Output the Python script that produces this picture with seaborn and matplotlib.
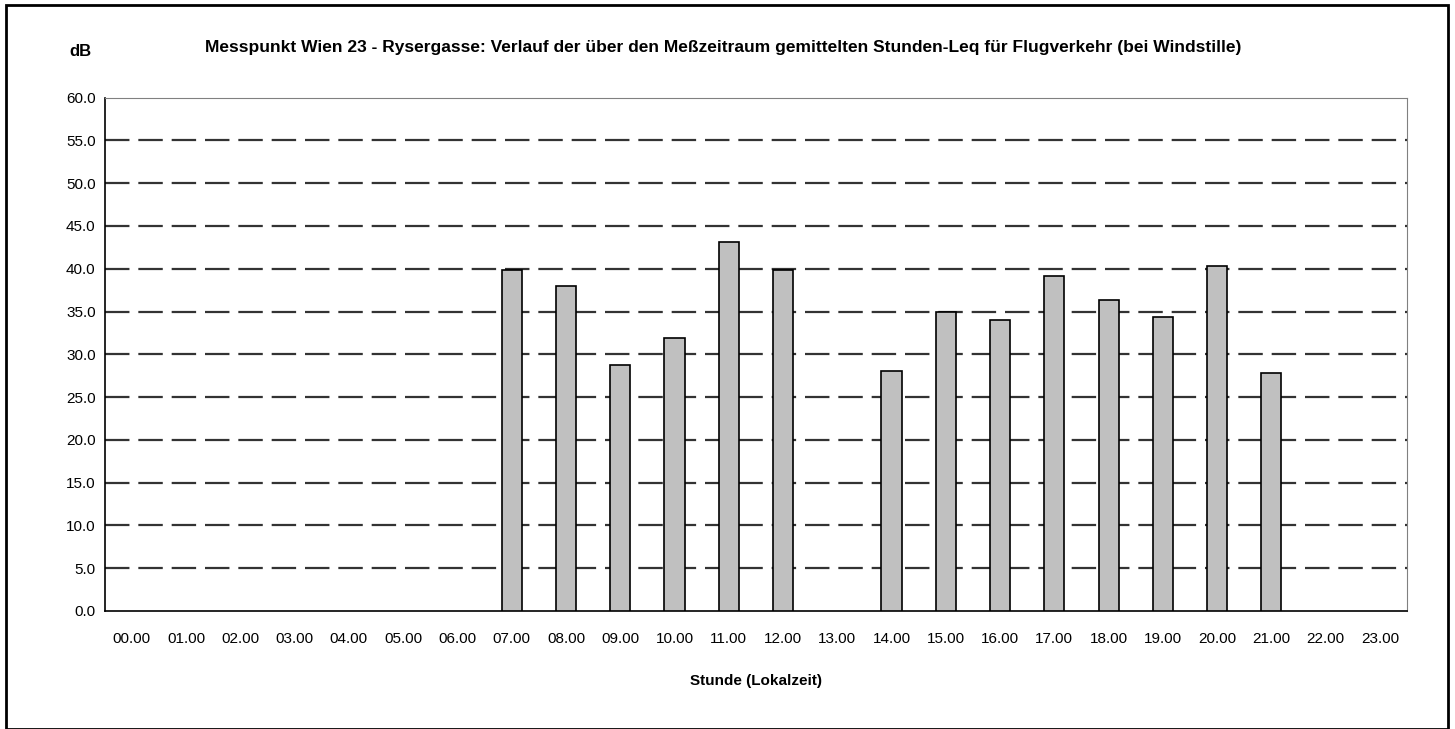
import numpy as np
import pandas as pd
import seaborn as sns
import matplotlib.pyplot as plt
from matplotlib.patches import Rectangle
from matplotlib.ticker import FixedLocator

hours = ["%02d.00" % h for h in range(24)]
bar_hours = ["07.00", "08.00", "09.00", "10.00", "11.00", "12.00",
             "14.00", "15.00", "16.00", "17.00", "18.00", "19.00", "20.00", "21.00"]
leq = [39.8, 38.0, 28.8, 31.9, 43.1, 39.9,
       28.0, 35.0, 34.0, 39.2, 36.4, 34.4, 40.3, 27.8]

sns.set_style("white")
plt.rcParams["font.family"] = ["Liberation Sans", "DejaVu Sans"]
plt.rcParams["text.color"] = "black"
plt.rcParams["xtick.color"] = "black"
plt.rcParams["ytick.color"] = "black"
plt.rcParams["axes.labelcolor"] = "black"

df = pd.DataFrame({"Stunde": bar_hours, "Leq": leq})

fig = plt.figure(figsize=(14.55, 7.29), dpi=100)
ax = fig.add_axes([0.072, 0.162, 0.895, 0.704])

sns.barplot(data=df, x="Stunde", y="Leq", order=hours, color="#c0c0c0",
            edgecolor="black", linewidth=1.2, width=0.37, saturation=1, ax=ax, zorder=3)

ax.set_ylim(0, 60)
ax.set_xlim(-0.5, 23.5)
ax.set_yticks(np.arange(0, 61, 5))
ax.set_yticklabels(["%.1f" % v for v in np.arange(0, 61, 5)], fontsize=11)
for v in np.arange(5, 60, 5):
    ax.axhline(v, color="#333333", lw=1.6, dashes=(11, 4), zorder=1)

ax.tick_params(axis="x", which="major", length=0, pad=15, labelsize=11)
ax.xaxis.set_minor_locator(FixedLocator(np.arange(-0.5, 24, 1)))
ax.tick_params(axis="x", which="minor", length=5, width=1, color="black", direction="inout")
ax.tick_params(axis="y", length=5, width=1, color="black", direction="inout", pad=4)

for s in ["left", "bottom"]:
    ax.spines[s].set_color("black")
    ax.spines[s].set_linewidth(1.2)
for s in ["top", "right"]:
    ax.spines[s].set_color("#808080")
    ax.spines[s].set_linewidth(0.8)

ax.set_xlabel("Stunde (Lokalzeit)", fontsize=11, fontweight="bold", labelpad=20)
ax.set_ylabel("")
fig.text(0.497, 0.935, "Messpunkt Wien 23 - Rysergasse: Verlauf der über den Meßzeitraum gemittelten Stunden-Leq für Flugverkehr (bei Windstille)",
         ha="center", va="center", fontsize=12.5, fontweight="bold")
fig.text(0.055, 0.93, "dB", ha="center", va="center", fontsize=12, fontweight="bold")

fig.patches.append(Rectangle((0.004, 0.0), 0.991, 0.993, transform=fig.transFigure,
                             fill=False, edgecolor="black", lw=2))

fig.savefig("out.png", dpi=100)
